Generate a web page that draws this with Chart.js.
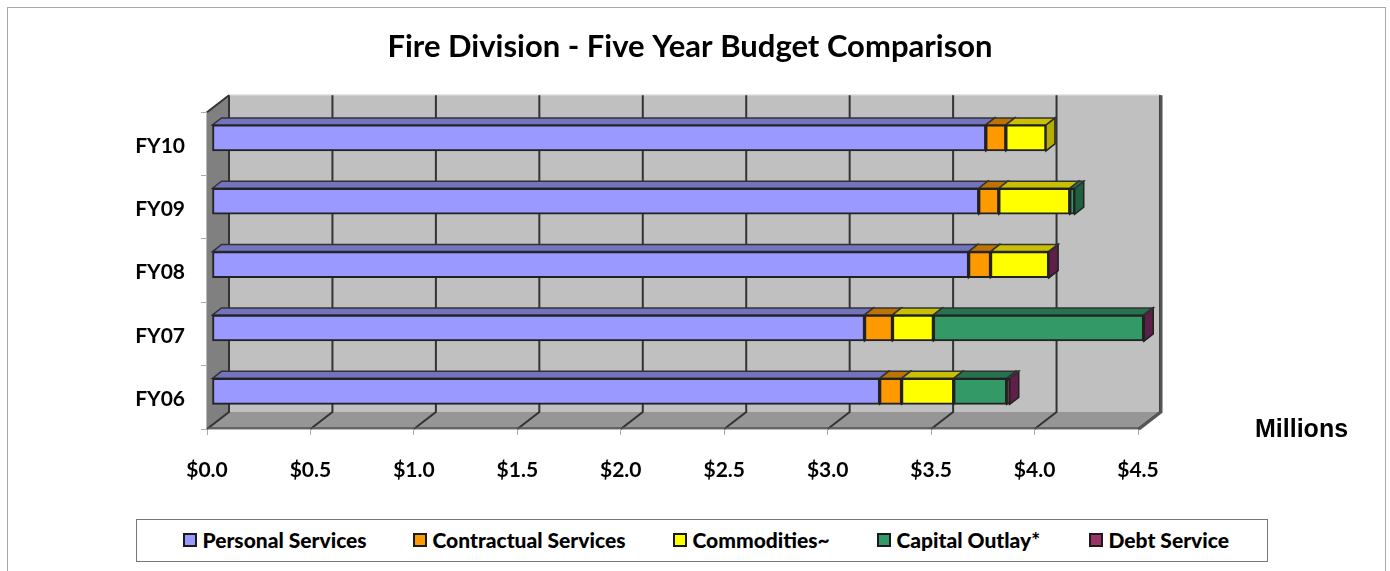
<!DOCTYPE html>
<html>
<head>
<meta charset="utf-8">
<title>Fire Division - Five Year Budget Comparison</title>
<script src="https://cdn.jsdelivr.net/npm/chart.js@4"></script>
<style>
    html, body { margin: 0; padding: 0; background: #fff; }
    #wrap { position: relative; width: 1390px; height: 571px; overflow: hidden; }
    #frame { position: absolute; left: 7px; top: 7px; width: 1377px; height: 580px; border: 1px solid #a8a8a8; }
    canvas { position: absolute; left: 0; top: 0; }
    #legend {
        position: absolute; left: 136px; top: 519px; width: 1130px; height: 41px; box-sizing: content-box;
        border: 1px solid #777; background: #fff;
        font: bold 21px Lato, sans-serif; color: #000;
    }
    #legend span.item { position: absolute; top: 7px; white-space: nowrap; }
    #legend i { position: absolute; left: 0; top: 6px; width: 10px; height: 10px; border: 2.5px solid #1a1a1a; }
    #legend b { margin-left: 19.5px; }
</style>
</head>
<body>
<div id="wrap">
    <div id="frame"></div>
    <canvas id="budgetChart" width="1390" height="571"></canvas>
    <div id="legend"></div>
</div>
<script>
const years = ['FY10', 'FY09', 'FY08', 'FY07', 'FY06'];
const xTickLabels = ['$0.0', '$0.5', '$1.0', '$1.5', '$2.0', '$2.5', '$3.0', '$3.5', '$4.0', '$4.5'];

// 단위: 백만 달러
const personalServices = [3.74, 3.706, 3.657, 3.154, 3.227];
const contractualServices = [0.097, 0.097, 0.106, 0.135, 0.106];
const commodities = [0.194, 0.343, 0.281, 0.198, 0.252];
const capitalOutlay = [0, 0.024, 0, 1.016, 0.256];
const debtService = [0, 0, 0.002, 0.003, 0.015];

const seriesNames = ['Personal Services', 'Contractual Services', 'Commodities~', 'Capital Outlay*', 'Debt Service'];
const seriesColors = ['#9999FF', '#FF9900', '#FFFF00', '#339966', '#993366'];
const topColors = ['#7373BF', '#BF7300', '#C8C000', '#267350', '#732650'];
const sideColors = ['#5C5C99', '#995C00', '#B5AE00', '#1F6040', '#5E1F48'];
const legendLefts = [46, 276, 536, 740, 952];

const DEPTH_X = 22, DEPTH_Y = 17;   // 벽면 깊이
const BAR_DX = 5, BAR_DY = 6;       // 막대 앞면 위치
const BAR_DEPTH_X = 9, BAR_DEPTH_Y = 7;

function poly(ctx, pts, fill, stroke, lw) {
    ctx.beginPath();
    pts.forEach((p, i) => i ? ctx.lineTo(p[0], p[1]) : ctx.moveTo(p[0], p[1]));
    ctx.closePath();
    if (fill) { ctx.fillStyle = fill; ctx.fill(); }
    if (stroke) { ctx.strokeStyle = stroke; ctx.lineWidth = lw || 1; ctx.stroke(); }
}

// 3D 벽면, 바닥, 막대 옆면을 차트 스케일 기준으로 그림
const depthPlugin = {
    id: 'depth',
    beforeDatasetsDraw(chart) {
        const { ctx, chartArea: a, scales } = chart;
        const bx = a.left + DEPTH_X, tY = a.top - DEPTH_Y;
        const rX = a.right + DEPTH_X, bY = a.bottom - DEPTH_Y;
        ctx.save();
        poly(ctx, [[bx, tY], [rX, tY], [rX, bY], [bx, bY]], '#C0C0C0');
        poly(ctx, [[a.left, a.top], [bx, tY], [bx, bY], [a.left, a.bottom]], '#808080');
        poly(ctx, [[a.left, a.bottom], [bx, bY], [rX, bY], [a.right, a.bottom]], '#969696');

        // 뒷벽 위쪽 테두리
        ctx.strokeStyle = '#d0d0d0';
        ctx.lineWidth = 1.5;
        ctx.beginPath(); ctx.moveTo(bx, tY); ctx.lineTo(rX, tY); ctx.stroke();

        // 격자선
        ctx.strokeStyle = '#333';
        ctx.lineWidth = 2;
        xTickLabels.forEach((_, i) => {
            const x = scales.x.getPixelForTick(i);
            ctx.beginPath();
            ctx.moveTo(x, a.bottom);
            ctx.lineTo(x + DEPTH_X, bY);
            ctx.lineTo(x + DEPTH_X, tY);
            ctx.stroke();
        });
        ctx.beginPath(); ctx.moveTo(a.left, a.top); ctx.lineTo(bx, tY); ctx.stroke();
        ctx.strokeStyle = '#555';
        ctx.lineWidth = 3;
        ctx.beginPath(); ctx.moveTo(rX + 1, tY); ctx.lineTo(rX + 1, bY); ctx.lineTo(a.right + 1, a.bottom); ctx.stroke();
        // 바닥 앞쪽 모서리
        ctx.lineWidth = 1.5;
        ctx.strokeStyle = '#555';
        ctx.beginPath(); ctx.moveTo(a.left, a.bottom - 1); ctx.lineTo(a.right, a.bottom - 1); ctx.stroke();
        ctx.restore();

        // 막대는 앞면 축에서 살짝 안쪽으로 밀어서 그림
        ctx.save();
        ctx.translate(BAR_DX, -BAR_DY);
        chart.data.datasets.forEach((ds, di) => {
            chart.getDatasetMeta(di).data.forEach((bar, i) => {
                if (!ds.data[i]) return;
                const p = bar.getProps(['x', 'y', 'base', 'height'], true);
                const top = p.y - p.height / 2, bottom = p.y + p.height / 2;
                poly(ctx, [[p.x, top], [p.x + BAR_DEPTH_X, top - BAR_DEPTH_Y], [p.x + BAR_DEPTH_X, bottom - BAR_DEPTH_Y], [p.x, bottom]], sideColors[di], '#222', 1.5);
                poly(ctx, [[p.base, top], [p.base + BAR_DEPTH_X, top - BAR_DEPTH_Y], [p.x + BAR_DEPTH_X, top - BAR_DEPTH_Y], [p.x, top]], topColors[di], '#333', 1.5);
            });
        });
    },
    afterDatasetsDraw(chart) {
        const { ctx } = chart;
        ctx.restore();
        ctx.save();
        ctx.font = 'bold 25px "Liberation Sans", Arial, sans-serif';
        ctx.fillStyle = '#000';
        ctx.textBaseline = 'middle';
        ctx.fillText('Millions', 1255, 430);
        ctx.restore();
    }
};

const budgetChart = new Chart(document.getElementById('budgetChart').getContext('2d'), {
    type: 'bar',
    data: {
        labels: years,
        datasets: [personalServices, contractualServices, commodities, capitalOutlay, debtService].map((values, i) => ({
            label: seriesNames[i],
            data: values,
            backgroundColor: seriesColors[i],
            borderColor: '#222',
            borderWidth: 2,
            borderSkipped: false,
            barThickness: 26
        }))
    },
    options: {
        indexAxis: 'y',
        responsive: false,
        animation: false,
        layout: { padding: { right: 10 } },
        plugins: {
            legend: { display: false },
            tooltip: { enabled: false },
            title: {
                display: true,
                text: 'Fire Division - Five Year Budget Comparison',
                color: '#000',
                font: { family: 'Lato', size: 31, weight: 'bold' },
                padding: { top: 28, bottom: 47 }
            }
        },
        scales: {
            x: {
                stacked: true,
                min: 0,
                max: 4.5,
                afterBuildTicks(scale) { scale.ticks = xTickLabels.map((_, i) => ({ value: i * 0.5 })); },
                afterFit(scale) { scale.height = 142; },
                ticks: {
                    autoSkip: false,
                    maxRotation: 0,
                    padding: 23,
                    color: '#000',
                    font: { family: 'Lato', size: 21, weight: 'bold' },
                    callback: (value, index) => xTickLabels[index]
                },
                grid: { drawOnChartArea: false, color: '#aaa', tickLength: 6, lineWidth: 1 },
                border: { color: '#bbb', width: 2 }
            },
            y: {
                stacked: true,
                afterFit(scale) { scale.width = 207; },
                ticks: {
                    padding: 16,
                    labelOffset: 2,
                    color: '#000',
                    font: { family: 'Lato', size: 21, weight: 'bold' }
                },
                grid: { drawOnChartArea: false, color: '#aaa', tickLength: 6, lineWidth: 1 },
                border: { color: '#bbb', width: 2 }
            },
            // 오른쪽 여백 확보용 빈 축
            spacer: {
                type: 'linear',
                position: 'right',
                afterFit(scale) { scale.width = 242; },
                ticks: { display: false },
                grid: { display: false },
                border: { display: false }
            }
        }
    },
    plugins: [depthPlugin]
});

// 범례는 차트 아래 상자로 따로 생성
const legendBox = document.getElementById('legend');
seriesNames.forEach((name, i) => {
    const item = document.createElement('span');
    item.className = 'item';
    item.style.left = legendLefts[i] + 'px';
    item.innerHTML = `<i style="background:${seriesColors[i]}"></i><b>${name}</b>`;
    legendBox.appendChild(item);
});
</script>
</body>
</html>
